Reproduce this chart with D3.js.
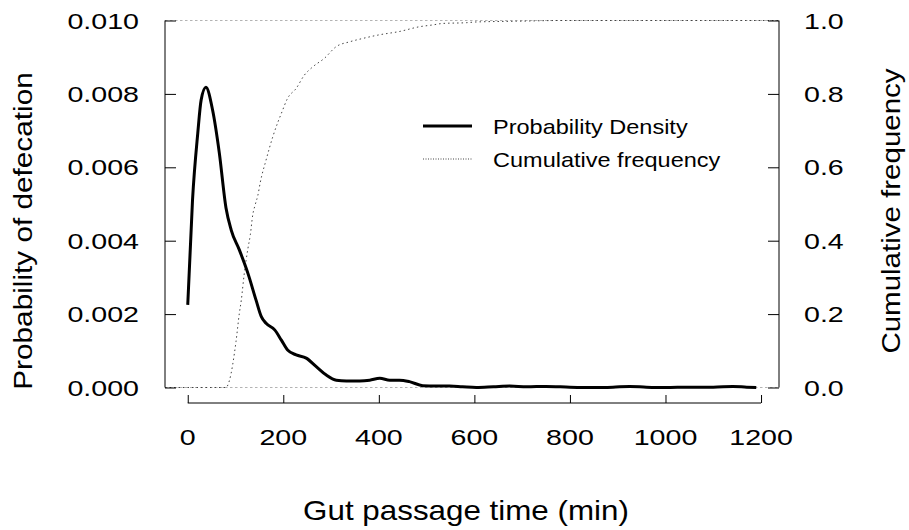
<!DOCTYPE html>
<html>
<head>
<meta charset="utf-8">
<script src="https://cdn.jsdelivr.net/npm/d3@7"></script>
<style>
html,body{margin:0;padding:0;background:#fff;}
svg{display:block;}
text{font-family:"Liberation Sans", Arial, Helvetica, sans-serif;fill:#000;}
</style>
</head>
<body>
<svg id="chart" width="909" height="530"></svg>
<script>
// ---- data ----
const densityTime = [0, 10, 21, 28, 38, 52, 66, 80, 91, 108, 126, 143, 154, 164, 182, 196, 209, 227, 248, 269, 290, 311, 332, 360, 381, 402, 423, 443, 464, 492, 520, 548, 575, 604, 640, 674, 710, 750, 800, 850, 890, 925, 960, 1000, 1050, 1100, 1141, 1170, 1190];
const densityValue = [0.00225, 0.00511, 0.00693, 0.00783, 0.00818, 0.00756, 0.00640, 0.00490, 0.00429, 0.00375, 0.00311, 0.00238, 0.00193, 0.00175, 0.00157, 0.00129, 0.00102, 0.00089, 0.00080, 0.00057, 0.00034, 0.00020, 0.00018, 0.00018, 0.00020, 0.00025, 0.00020, 0.00020, 0.00016, 0.00005, 0.00004, 0.00004, 0.00002, 0.00000, 0.00002, 0.00004, 0.00002, 0.00003, 0.00001, 0.00000, 0.00001, 0.00003, 0.00001, 0.00000, 0.00001, 0.00001, 0.00003, 0.00001, 0.00000];

const cumTime = [0, 80, 87, 101, 108, 112, 118, 126, 131, 136, 141, 147, 152, 164, 178, 189, 196, 209, 227, 244, 262, 286, 311, 339, 366, 401, 443, 485, 513, 534, 583, 604, 688, 780, 1190];
const cumValue = [0, 0, 0.018, 0.125, 0.202, 0.237, 0.307, 0.379, 0.416, 0.470, 0.497, 0.525, 0.560, 0.620, 0.683, 0.724, 0.747, 0.788, 0.815, 0.851, 0.874, 0.897, 0.929, 0.942, 0.951, 0.961, 0.970, 0.983, 0.988, 0.992, 0.994, 0.996, 0.998, 1.0, 1.0];

const xTicks = [0, 200, 400, 600, 800, 1000, 1200];
const yLeftTicks = [0, 0.002, 0.004, 0.006, 0.008, 0.010];
const yRightTicks = [0, 0.2, 0.4, 0.6, 0.8, 1.0];
const refLines = [0, 1];
const legendLabels = ["Probability Density", "Cumulative frequency"];

// ---- layout ----
const svg = d3.select("#chart");
const plotLeft = 165, plotRight = 779, plotTop = 20.5, plotBottom = 387.5;

const x = d3.scaleLinear().domain([-47.6, 1237.6]).range([plotLeft, plotRight]);
const yL = d3.scaleLinear().domain([0, 0.010]).range([plotBottom, plotTop]);
const yR = d3.scaleLinear().domain([0, 1]).range([plotBottom, plotTop]);

// helper: text stretched along its writing direction
function addText(px, py, str, size, sx, anchor, rot) {
  return svg.append("text")
    .attr("transform", `translate(${px},${py})` + (rot ? ` rotate(${rot})` : "") + ` scale(${sx},1)`)
    .attr("text-anchor", anchor)
    .attr("font-size", size)
    .text(str);
}

// grey dashed reference lines at 0 and 1 (cumulative scale)
refLines.forEach(v => {
  svg.append("line")
    .attr("x1", plotLeft).attr("x2", plotRight)
    .attr("y1", yR(v)).attr("y2", yR(v))
    .attr("stroke", "#b3b3b3").attr("stroke-width", 1)
    .attr("stroke-dasharray", "2.5,2.5");
});

// cumulative frequency (dotted)
const cumPts = cumTime.map((t, i) => [t, cumValue[i]]);
const cumFull = [[x.domain()[0], 0]].concat(cumPts, [[x.domain()[1], 1]]);
const cumLine = d3.line().x(d => x(d[0])).y(d => yR(d[1])).curve(d3.curveMonotoneX);
svg.append("path")
  .attr("d", cumLine(cumFull))
  .attr("fill", "none")
  .attr("stroke", "#444")
  .attr("stroke-width", 1)
  .attr("stroke-dasharray", "1.5,3");

// density curve
const densLine = d3.line().x(d => x(d[0])).y(d => yL(d[1])).curve(d3.curveMonotoneX);
svg.append("path")
  .attr("d", densLine(densityTime.map((t, i) => [t, densityValue[i]])))
  .attr("fill", "none")
  .attr("stroke", "#000")
  .attr("stroke-width", 3)
  .attr("stroke-linejoin", "round");

const tickFont = 22, tickSx = 1.3;

// left axis (ticks inward)
const gL = svg.append("g").attr("transform", `translate(${plotLeft},0)`)
  .call(d3.axisRight(yL).tickValues(yLeftTicks).tickSize(11).tickFormat(""));
gL.select(".domain").attr("d", `M0,${plotBottom}V${plotTop}`);
gL.selectAll("line, path").attr("stroke", "#000");
yLeftTicks.forEach(d => addText(139, yL(d) + 8, d3.format(".3f")(d), tickFont, tickSx, "end"));

// right axis (ticks inward)
const gR = svg.append("g").attr("transform", `translate(${plotRight},0)`)
  .call(d3.axisLeft(yR).tickValues(yRightTicks).tickSize(11).tickFormat(""));
gR.select(".domain").attr("d", `M0,${plotBottom}V${plotTop}`);
gR.selectAll("line, path").attr("stroke", "#000");
yRightTicks.forEach(d => addText(804, yR(d) + 8, d3.format(".1f")(d), tickFont, tickSx, "start"));

// x axis (separate line below, ticks upward)
const axisY = 403;
const gX = svg.append("g").attr("transform", `translate(0,${axisY})`)
  .call(d3.axisTop(x).tickValues(xTicks).tickSize(8).tickFormat(""));
gX.select(".domain").attr("d", `M${x(0)},0H${x(1200)}`);
gX.selectAll("line, path").attr("stroke", "#000");
xTicks.forEach(d => addText(x(d), 445, String(d), tickFont, tickSx, "middle"));

// axis titles
addText(466, 520, "Gut passage time (min)", 28, 1.12, "middle");
addText(31.5, 231, "Probability of defecation", 25, 1.19, "middle", -90);
addText(900, 211, "Cumulative frequency", 25, 1.18, "middle", -90);

// legend
const legY = [126, 159];
svg.append("line").attr("x1", 423).attr("x2", 472).attr("y1", legY[0]).attr("y2", legY[0])
  .attr("stroke", "#000").attr("stroke-width", 3);
svg.append("line").attr("x1", 423).attr("x2", 472).attr("y1", legY[1]).attr("y2", legY[1])
  .attr("stroke", "#444").attr("stroke-width", 1).attr("stroke-dasharray", "1,1.5");
legendLabels.forEach((lab, i) => addText(493, legY[i] + 8, lab, 21, 1.12, "start"));
</script>
</body>
</html>
